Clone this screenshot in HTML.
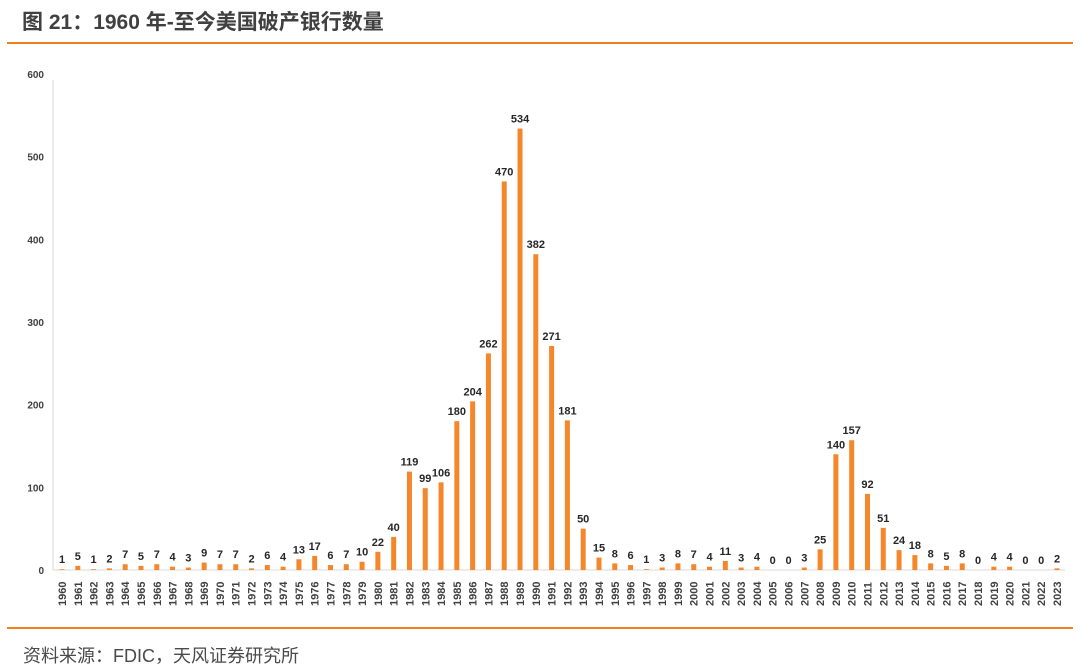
<!DOCTYPE html>
<html><head><meta charset="utf-8"><style>
body{margin:0;background:#fff;width:1080px;height:671px;overflow:hidden;font-family:"Liberation Sans","Noto Sans CJK SC",sans-serif}
#title{position:absolute;left:22px;top:6px;font-size:21px;font-weight:bold;color:#404040}
.rule{position:absolute;left:7px;width:1066px;height:2px;background:#f07f20}
#src{position:absolute;left:23px;top:642px;font-size:18px;color:#4a4a4a}
</style></head><body>
<div id="title">图 21：1960 年-至今美国破产银行数量</div>
<div class="rule" style="top:42px"></div>
<svg id="chart" width="1080" height="671" style="position:absolute;left:0;top:0"></svg>
<div class="rule" style="top:627px"></div>
<div id="src">资料来源：FDIC，天风证券研究所</div>
<script>
const years=[];for(let y=1960;y<=2023;y++)years.push(String(y));
const values=[1,5,1,2,7,5,7,4,3,9,7,7,2,6,4,13,17,6,7,10,22,40,119,99,106,180,204,262,470,534,382,271,181,50,15,8,6,1,3,8,7,4,11,3,4,0,0,3,25,140,157,92,51,24,18,8,5,8,0,4,4,0,0,2];
const yTicks=[0,100,200,300,400,500,600];
const ns="http://www.w3.org/2000/svg",svg=document.getElementById('chart');
const y0=570,yTop=74,x0=62,x1=1057;
const yS=v=>y0-(v/600)*(y0-yTop);
const xS=i=>x0+i*(x1-x0)/(years.length-1);
function mk(t,a){const e=document.createElementNS(ns,t);for(const k in a)e.setAttribute(k,a[k]);svg.appendChild(e);return e;}
let ax=mk('line',{x1:53,y1:80,x2:53,y2:y0,stroke:'#d9d9d9','stroke-width':1});


let bx=mk('line',{x1:53,y1:y0,x2:1065,y2:y0,stroke:'#d9d9d9','stroke-width':1});


yTicks.forEach(t=>{const e=mk('text',{x:44,y:yS(t)+4,'text-anchor':'end','font-size':10,'font-weight':'bold',fill:'#404040'});e.textContent=t;

});
values.forEach((v,i)=>{const x=xS(i);
const r=mk('rect',{x:x-2.5,y:yS(v),width:5,height:y0-yS(v),fill:'#f5862a'});


const l=mk('text',{x:x,y:yS(v)-6,'text-anchor':'middle','font-size':11,'font-weight':'bold',fill:'#262626'});l.textContent=v;


const yl=mk('text',{x:0,y:0,transform:`translate(${x+4},${606}) rotate(-90)`,'font-size':11,'font-weight':'bold',fill:'#404040'});yl.textContent=years[i];

});
</script>
</body></html>
